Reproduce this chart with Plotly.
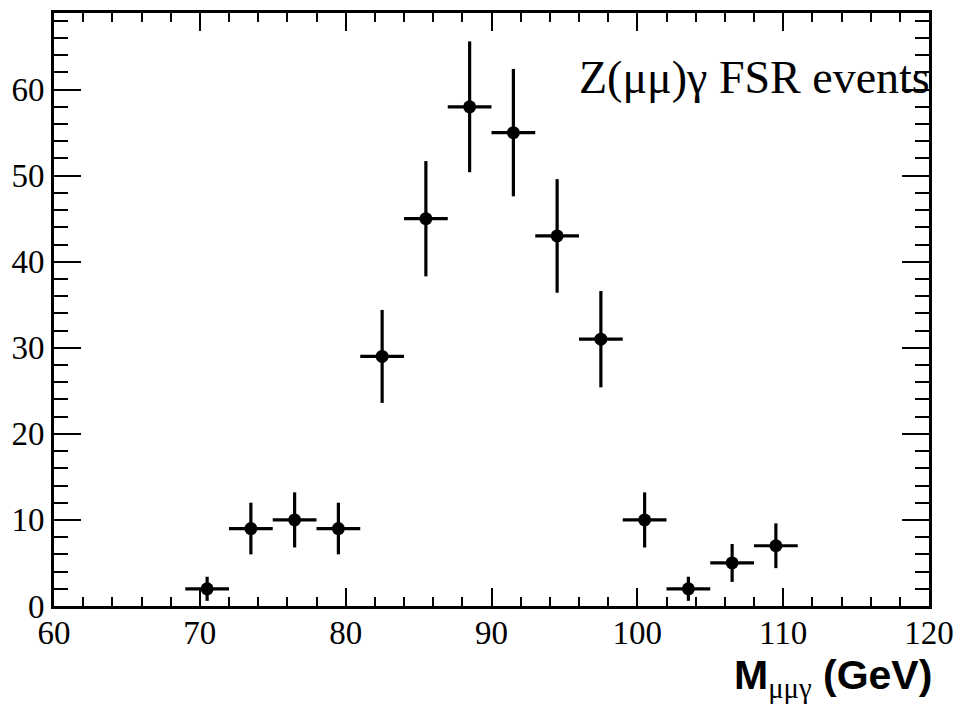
import plotly.graph_objects as go

bin_centers = [70.5, 73.5, 76.5, 79.5, 82.5, 85.5, 88.5, 91.5, 94.5, 97.5, 100.5, 103.5, 106.5, 109.5]
counts = [2, 9, 10, 9, 29, 45, 58, 55, 43, 31, 10, 2, 5, 7]
count_errors = [1.4, 3.0, 3.2, 3.0, 5.4, 6.7, 7.6, 7.4, 6.6, 5.6, 3.2, 1.4, 2.2, 2.6]
half_bin = [1.5] * len(bin_centers)

x_ticks = [60, 70, 80, 90, 100, 110, 120]
y_ticks = [0, 10, 20, 30, 40, 50, 60]

fig = go.Figure()
fig.add_trace(go.Scatter(
    x=bin_centers, y=counts, mode="markers",
    marker=dict(color="black", size=13),
    error_y=dict(type="data", array=count_errors, color="black", thickness=3.2, width=0),
    error_x=dict(type="data", array=half_bin, color="black", thickness=3.2, width=0),
    showlegend=False,
))

tickfont = dict(family="Liberation Serif", size=33, color="black")
fig.update_xaxes(
    range=[60, 120], tickvals=x_ticks, ticktext=[str(v) for v in x_ticks],
    ticks="inside", ticklen=18, tickwidth=2, tickcolor="black",
    minor=dict(dtick=2, ticks="inside", ticklen=9, tickwidth=2, tickcolor="black"),
    showline=True, linecolor="black", linewidth=3, mirror="ticks",
    showgrid=False, zeroline=False, tickfont=tickfont, ticklabelstandoff=-5,
)
fig.update_yaxes(
    range=[0, 68.9], tickvals=y_ticks, ticktext=[str(v) for v in y_ticks],
    ticks="inside", ticklen=27, tickwidth=2, tickcolor="black",
    minor=dict(dtick=2, ticks="inside", ticklen=14, tickwidth=2, tickcolor="black"),
    showline=True, linecolor="black", linewidth=3, mirror="ticks",
    showgrid=False, zeroline=False, tickfont=tickfont,
)

fig.add_annotation(
    x=1.0, y=0.891, xref="paper", yref="paper", xanchor="right", yanchor="middle",
    text="Z(μμ)γ FSR events", showarrow=False, xshift=3,
    font=dict(family="Liberation Serif", size=46, color="black"),
)
fig.add_annotation(
    x=1.0, y=-0.122, xref="paper", yref="paper", xanchor="right", yanchor="middle",
    text="<b>M</b><sub><span style='font-family:Liberation Serif'>μμγ</span></sub><b> (GeV)</b>",
    showarrow=False, xshift=5,
    font=dict(family="Liberation Sans", size=41, color="black"),
)

fig.update_layout(
    width=964, height=709,
    margin=dict(l=54, r=32, t=10, b=103),
    paper_bgcolor="white", plot_bgcolor="white",
)
fig.write_html("out.html")
